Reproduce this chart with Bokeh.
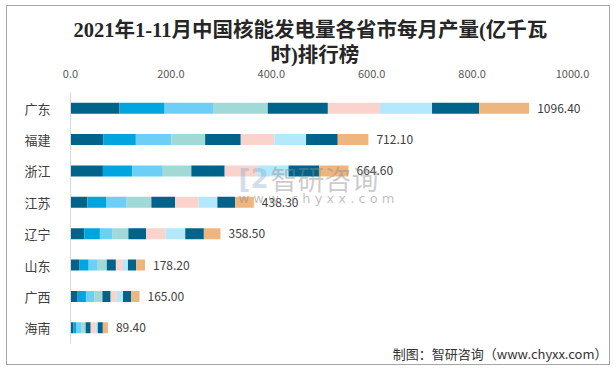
from bokeh.plotting import figure
from bokeh.models import (ColumnDataSource, FactorRange, Range1d, LinearAxis,
                          FixedTicker, NumeralTickFormatter, Label, Title)
from bokeh.core.properties import value
from bokeh.embed import file_html
from bokeh.resources import INLINE

provinces = ["广东", "福建", "浙江", "江苏", "辽宁", "山东", "广西", "海南"]
months = ["3月", "4月", "5月", "6月", "7月", "8月", "9月", "10月", "11月"]
gd = [117.3, 107.7, 117.3, 129.3, 143.6, 124.5, 124.5, 112.5, 119.7]
fj = [78.1, 78.1, 85.2, 80.4, 85.2, 80.4, 75.7, 75.7, 73.3]
zj = [77.5, 70.4, 72.8, 68.1, 79.8, 77.5, 75.1, 72.8, 70.6]
js = [40.1, 44.8, 49.5, 58.9, 56.5, 56.5, 44.8, 42.4, 44.8]
ln = [32.8, 37.5, 30.5, 37.5, 42.2, 46.9, 46.9, 44.5, 39.7]
sd = [21.7, 21.7, 21.7, 21.7, 21.7, 16.9, 12.0, 19.3, 21.5]
gx = [17.2, 19.7, 19.7, 19.7, 19.7, 14.8, 14.8, 19.7, 19.7]
hn = [7.2, 7.2, 12.1, 9.7, 12.1, 12.1, 4.8, 12.1, 12.1]
totals = [1096.40, 712.10, 664.60, 438.30, 358.50, 178.20, 165.00, 89.40]
tick_values = [0, 200, 400, 600, 800, 1000]
title_lines = ["2021年1-11月中国核能发电量各省市每月产量(亿千瓦", "时)排行榜"]

colors = ["#00638A", "#00A5DF", "#6ECFF6", "#A1D9D6", "#00638A",
          "#F9D3CC", "#B4E8FC", "#00638A", "#EFB57F"]

rows = [gd, fj, zj, js, ln, sd, gx, hn]
data = {"prov": provinces}
for i, m in enumerate(months):
    data[m] = [r[i] for r in rows]
src = ColumnDataSource(data)

p = figure(width=604, height=360, output_backend="svg", toolbar_location=None,
           y_range=FactorRange(*provinces[::-1]),
           x_range=Range1d(0, 1243.0),
           x_axis_location=None,
           min_border_left=63, min_border_right=21, min_border_top=86,
           min_border_bottom=23)
p.outline_line_color = None
p.styles = {"margin-left": "6px", "margin-top": "5px",
            "border": "1px solid #A6A6A6"}
p.title.text = ""
p.title.standoff = 0
p.title.text_font_size = "1px"

p.hbar_stack(months, y="prov", height=0.35, source=src, color=colors,
             line_color=None)

lbl = ColumnDataSource(dict(x=totals, y=provinces,
                            t=["%.2f" % v for v in totals]))
p.text(x="x", y="y", text="t", source=lbl, x_offset=8,
       text_baseline="middle", text_font_size="12px",
       text_font=value("Noto Sans CJK SC"), text_color="#404040")

p.extra_x_ranges = {"top": Range1d(0, 1035.9)}
ax = LinearAxis(x_range_name="top", ticker=FixedTicker(ticks=tick_values),
                formatter=NumeralTickFormatter(format="0.0"))
ax.axis_line_color = None
ax.major_tick_line_color = None
ax.minor_tick_line_color = None
ax.major_label_text_font_size = "11px"
ax.major_label_text_color = "#595959"
ax.major_label_text_font = "Noto Sans CJK SC"
ax.major_label_standoff = 9
p.add_layout(ax, "above")

tfont = "Liberation Serif, Noto Sans CJK SC"
t2 = Title(text=title_lines[1], align="left", offset=200, standoff=2,
           text_font_size="20.5px", text_font_style="bold", text_font=tfont,
           text_color="#262626")
p.add_layout(t2, "above")
t1 = Title(text=title_lines[0], align="left", offset=3, standoff=0,
           text_font_size="20.5px", text_font_style="bold", text_font=tfont,
           text_color="#262626")
p.add_layout(t1, "above")

p.yaxis.axis_line_color = "#D9D9D9"
p.yaxis.major_tick_line_color = None
p.yaxis.minor_tick_line_color = None
p.yaxis.major_label_text_font_size = "13px"
p.yaxis.major_label_text_color = "#404040"
p.yaxis.major_label_text_font = "Noto Sans CJK SC"
p.yaxis.major_label_standoff = 14
p.xgrid.grid_line_color = None
p.ygrid.grid_line_color = None

# watermark
p.add_layout(Label(x=168, y=165, x_units="screen", y_units="screen",
                   text="[2", text_align="left", text_baseline="middle",
                   text_font_size="26px", text_font_style="bold",
                   text_font="DejaVu Sans", text_color="#8FA5C8",
                   text_alpha=0.4))
p.add_layout(Label(x=200, y=165, x_units="screen", y_units="screen",
                   text="智研咨询", text_align="left", text_baseline="middle",
                   text_font_size="27px", text_font="Noto Sans CJK SC",
                   text_color="#8C8C8C", text_alpha=0.45))
p.add_layout(Label(x=168, y=145, x_units="screen", y_units="screen",
                   text="w w w . c h y x x . c o m", text_align="left",
                   text_baseline="middle", text_font_size="13px",
                   text_font="DejaVu Sans", text_color="#8C8C8C",
                   text_alpha=0.55))

footer = Title(text="制图：智研咨询（www.chyxx.com）", align="right",
               offset=-17, standoff=0, vertical_align="top",
               text_font_size="13px", text_font="Noto Sans CJK SC",
               text_font_style="normal", text_color="#333333")
p.add_layout(footer, "below")

open("out.html", "w").write(file_html(p, INLINE))
